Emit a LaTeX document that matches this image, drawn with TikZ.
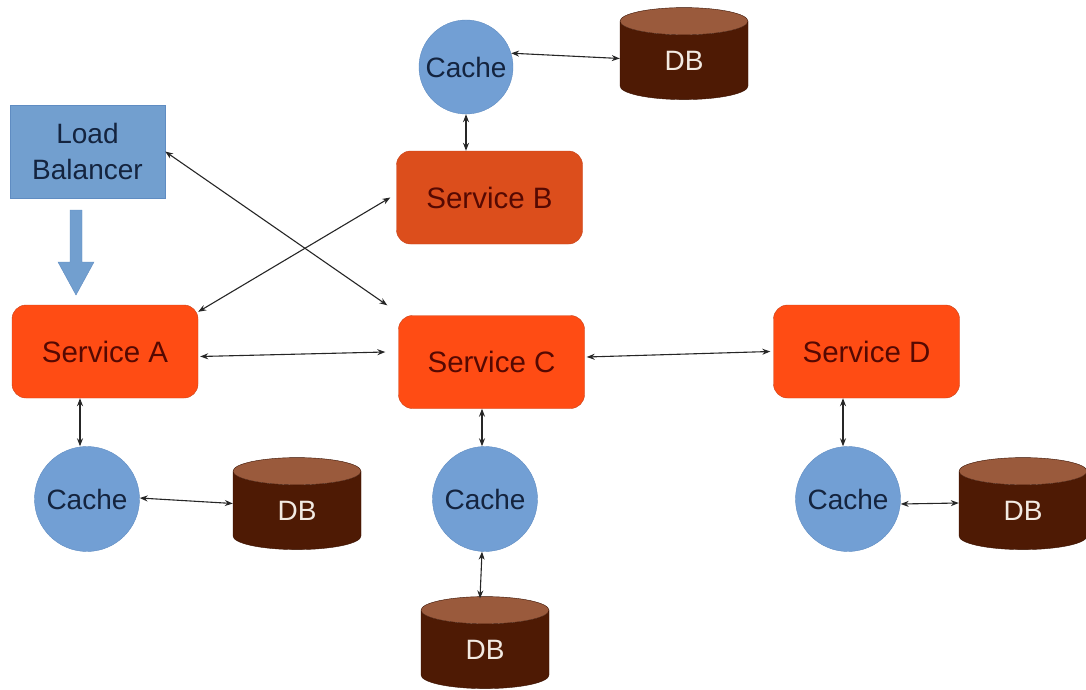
\documentclass[tikz,border=0pt]{standalone}
\usepackage{fontspec}
\setmainfont{Liberation Sans}
\usetikzlibrary{shapes.geometric,arrows.meta}

\definecolor{lbblue}{HTML}{729FCF}
\definecolor{lbedge}{HTML}{5F8CC2}
\definecolor{cacheblue}{HTML}{729FD4}
\definecolor{svcred}{HTML}{FF4C14}
\definecolor{svcbrown}{HTML}{DC4E1C}
\definecolor{svcedge}{HTML}{C9431A}
\definecolor{svctext}{HTML}{550902}
\definecolor{navytext}{HTML}{14243F}
\definecolor{dbbody}{HTML}{4E1A04}
\definecolor{dbtop}{HTML}{9A5A3C}
\definecolor{dbedge}{HTML}{3A1202}
\definecolor{dbtext}{HTML}{F2EAE2}

\newcommand\diafont{\fontsize{28}{36}\selectfont}
\newcommand\svcfont{\fontsize{29.5}{36}\selectfont}

\begin{document}
\begin{tikzpicture}[x=1pt,y=-1pt,
  lbbox/.style={rectangle, draw=lbedge, fill=lbblue, text=navytext,
    minimum width=155, minimum height=93, align=center, font=\diafont},
  svc/.style={rectangle, rounded corners=14, draw=svcedge, fill=svcred,
    text=svctext, minimum width=186, minimum height=93, font=\svcfont},
  cache/.style={circle, draw=lbedge, fill=cacheblue, text=navytext,
    minimum size=105, inner sep=0, font=\diafont},
  db/.style={cylinder, shape border rotate=90, aspect=0.7,
    minimum width=128, minimum height=92, inner sep=0,
    cylinder uses custom fill, cylinder body fill=dbbody,
    cylinder end fill=dbtop, draw=dbedge, text=dbtext, font=\diafont},
  conn/.style={{Stealth[length=8pt,width=6pt]}-{Stealth[length=8pt,width=6pt]},
    line width=1.1pt, draw=black!85}]
\useasboundingbox (0,0) rectangle (1086,690);

% load balancer and its feed arrow
\node[lbbox] (lb) at (87.5,151.5) {Load\\Balancer};
\filldraw[fill=lbblue, draw=lbedge] (70,210) -- (82,210) -- (82,262) -- (94,262)
  -- (76,295) -- (58,262) -- (70,262) -- cycle;

% services
\node[svc] (sa) at (105,351.5) {Service A};
\node[svc, fill=svcbrown] (sb) at (489.5,197.5) {Service B};
\node[svc] (sc) at (491.5,362) {Service C};
\node[svc] (sd) at (866.5,351.5) {Service D};

% caches
\node[cache, minimum size=94] (ct) at (466,67) {Cache};
\node[cache] (ca) at (87,499) {Cache};
\node[cache] (cc) at (485,499) {Cache};
\node[cache] (cd) at (848,499) {Cache};

% databases
\node[db] (dt) at (684,60.5) {DB};
\node[db] (da) at (297,510.5) {DB};
\node[db] (dc) at (485,649.5) {DB};
\node[db] (dd) at (1023,510.5) {DB};

% connections
\draw[conn] (ct.17) -- ([yshift=2]dt.west);
\draw[conn] (ct.south) -- (ct.south |- sb.north);
\draw[conn] (lb.east) -- ([xshift=-11,yshift=10]sc.north west);
\draw[conn] ([yshift=-7]sa.north east) -- ([xshift=-6]sb.west);
\draw[conn] ([xshift=2,yshift=-5]sa.east) -- ([xshift=-13,yshift=10]sc.west);
\draw[conn] ([xshift=2,yshift=5]sc.east) -- ([xshift=-3]sd.west);
\draw[conn] ([xshift=-7]ca.north) -- ([xshift=-7]ca.north |- sa.south);
\draw[conn] ([yshift=1]ca.east) -- ([yshift=7]da.west);
\draw[conn] ([xshift=-3]cc.north) -- ([xshift=-3]cc.north |- sc.south);
\draw[conn] ([xshift=-3]cc.south) -- ([xshift=-5,yshift=-2]dc.north);
\draw[conn] ([xshift=-5]cd.north) -- ([xshift=-5]cd.north |- sd.south);
\draw[conn] ([yshift=-5]cd.east) -- ([yshift=7.5]dd.west);
\end{tikzpicture}
\end{document}
